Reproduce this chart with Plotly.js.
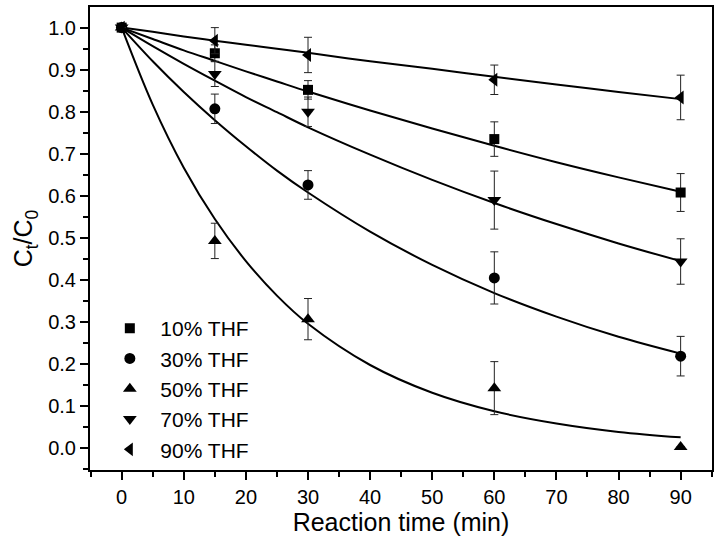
<!DOCTYPE html>
<html>
<head>
<meta charset="utf-8">
<script src="https://cdn.plot.ly/plotly-3.0.1.min.js"></script>
<style>html,body{margin:0;padding:0;background:#fff;}#chart{width:719px;height:542px;}</style>
</head>
<body>
<div id="chart"></div>
<script>
// Measured points
const times = [0, 15, 30, 60, 90];
const seriesNames = ["10% THF", "30% THF", "50% THF", "70% THF", "90% THF"];
const symbols = ["square", "circle", "triangle-up", "triangle-down", "triangle-left"];
const thf10 = [1.0, 0.939, 0.852, 0.735, 0.608];
const thf30 = [1.0, 0.807, 0.626, 0.405, 0.219];
const thf50 = [1.0, 0.493, 0.307, 0.143, 0.003];
const thf70 = [1.0, 0.890, 0.800, 0.590, 0.444];
const thf90 = [1.0, 0.969, 0.935, 0.876, 0.834];
const err10 = [0.0, 0.020, 0.022, 0.041, 0.045];
const err30 = [0.0, 0.035, 0.034, 0.062, 0.047];
const err50 = [0.0, 0.042, 0.049, 0.063, 0.0];
const err70 = [0.0, 0.030, 0.035, 0.069, 0.054];
const err90 = [0.0, 0.031, 0.042, 0.035, 0.053];
// Fitted curves
const fitTimes = [0, 5, 10, 15, 20, 25, 30, 40, 50, 60, 70, 80, 90];
const fit10 = [1.0, 0.973, 0.946, 0.921, 0.896, 0.872, 0.848, 0.803, 0.760, 0.719, 0.680, 0.644, 0.610];
const fit30 = [1.0, 0.920, 0.847, 0.780, 0.718, 0.660, 0.608, 0.515, 0.436, 0.369, 0.313, 0.265, 0.225];
const fit50 = [1.0, 0.817, 0.667, 0.545, 0.445, 0.363, 0.296, 0.198, 0.132, 0.088, 0.059, 0.039, 0.026];
const fit70 = [1.0, 0.956, 0.914, 0.874, 0.835, 0.799, 0.763, 0.698, 0.638, 0.583, 0.533, 0.487, 0.445];
const fit90 = [1.0, 0.990, 0.979, 0.969, 0.959, 0.950, 0.940, 0.920, 0.902, 0.883, 0.865, 0.847, 0.830];

const values = [thf10, thf30, thf50, thf70, thf90];
const errors = [err10, err30, err50, err70, err90];
const fits = [fit10, fit30, fit50, fit70, fit90];
const markerSizes = [10, 11, 12, 12, 12];

const FONT = "Liberation Sans, Arial, sans-serif";
const traces = [];
fits.forEach(function (f) {
  traces.push({
    x: fitTimes, y: f, mode: "lines", type: "scatter",
    line: {color: "#000", width: 2, shape: "spline", smoothing: 1},
    showlegend: false, hoverinfo: "skip"
  });
});
values.forEach(function (v, i) {
  traces.push({
    x: times, y: v, mode: "markers", type: "scatter", name: seriesNames[i],
    marker: {symbol: symbols[i], size: markerSizes[i], color: "#000"},
    error_y: {type: "data", array: errors[i], visible: true, color: "#222", thickness: 1, width: 4}
  });
});

const layout = {
  width: 719, height: 542,
  margin: {l: 90, r: 7, t: 7, b: 72},
  paper_bgcolor: "#fff", plot_bgcolor: "#fff",
  font: {family: FONT, size: 20, color: "#000"},
  showlegend: true,
  legend: {
    x: 0.015, y: 0.0, xanchor: "left", yanchor: "bottom",
    bgcolor: "rgba(0,0,0,0)", borderwidth: 0,
    font: {family: FONT, size: 21, color: "#000"},
    itemwidth: 51, tracegroupgap: 0
  },
  xaxis: {
    range: [-5.1, 95.05], tickmode: "linear", tick0: 0, dtick: 10,
    showgrid: false, zeroline: false,
    showline: true, linecolor: "#000", linewidth: 2, mirror: true,
    ticks: "outside", ticklen: 8, tickwidth: 2, tickcolor: "#000",
    minor: {dtick: 5, tick0: 0, ticks: "outside", ticklen: 5, tickwidth: 2, tickcolor: "#000", showgrid: false},
    tickfont: {family: FONT, size: 20},
    title: {text: "Reaction time (min)", font: {family: FONT, size: 25}, standoff: 4}
  },
  yaxis: {
    range: [-0.0516, 1.049], tickmode: "linear", tick0: 0, dtick: 0.1, tickformat: ".1f",
    showgrid: false, zeroline: false,
    showline: true, linecolor: "#000", linewidth: 2, mirror: true,
    ticks: "outside", ticklen: 8, tickwidth: 2, tickcolor: "#000",
    minor: {dtick: 0.05, tick0: 0, ticks: "outside", ticklen: 5, tickwidth: 2, tickcolor: "#000", showgrid: false},
    tickfont: {family: FONT, size: 20},
    title: {text: "C<sub>t</sub>/C<sub>0</sub>", font: {family: FONT, size: 25}, standoff: 8}
  }
};

Plotly.newPlot("chart", traces, layout, {displayModeBar: false, staticPlot: true});
</script>
</body>
</html>
